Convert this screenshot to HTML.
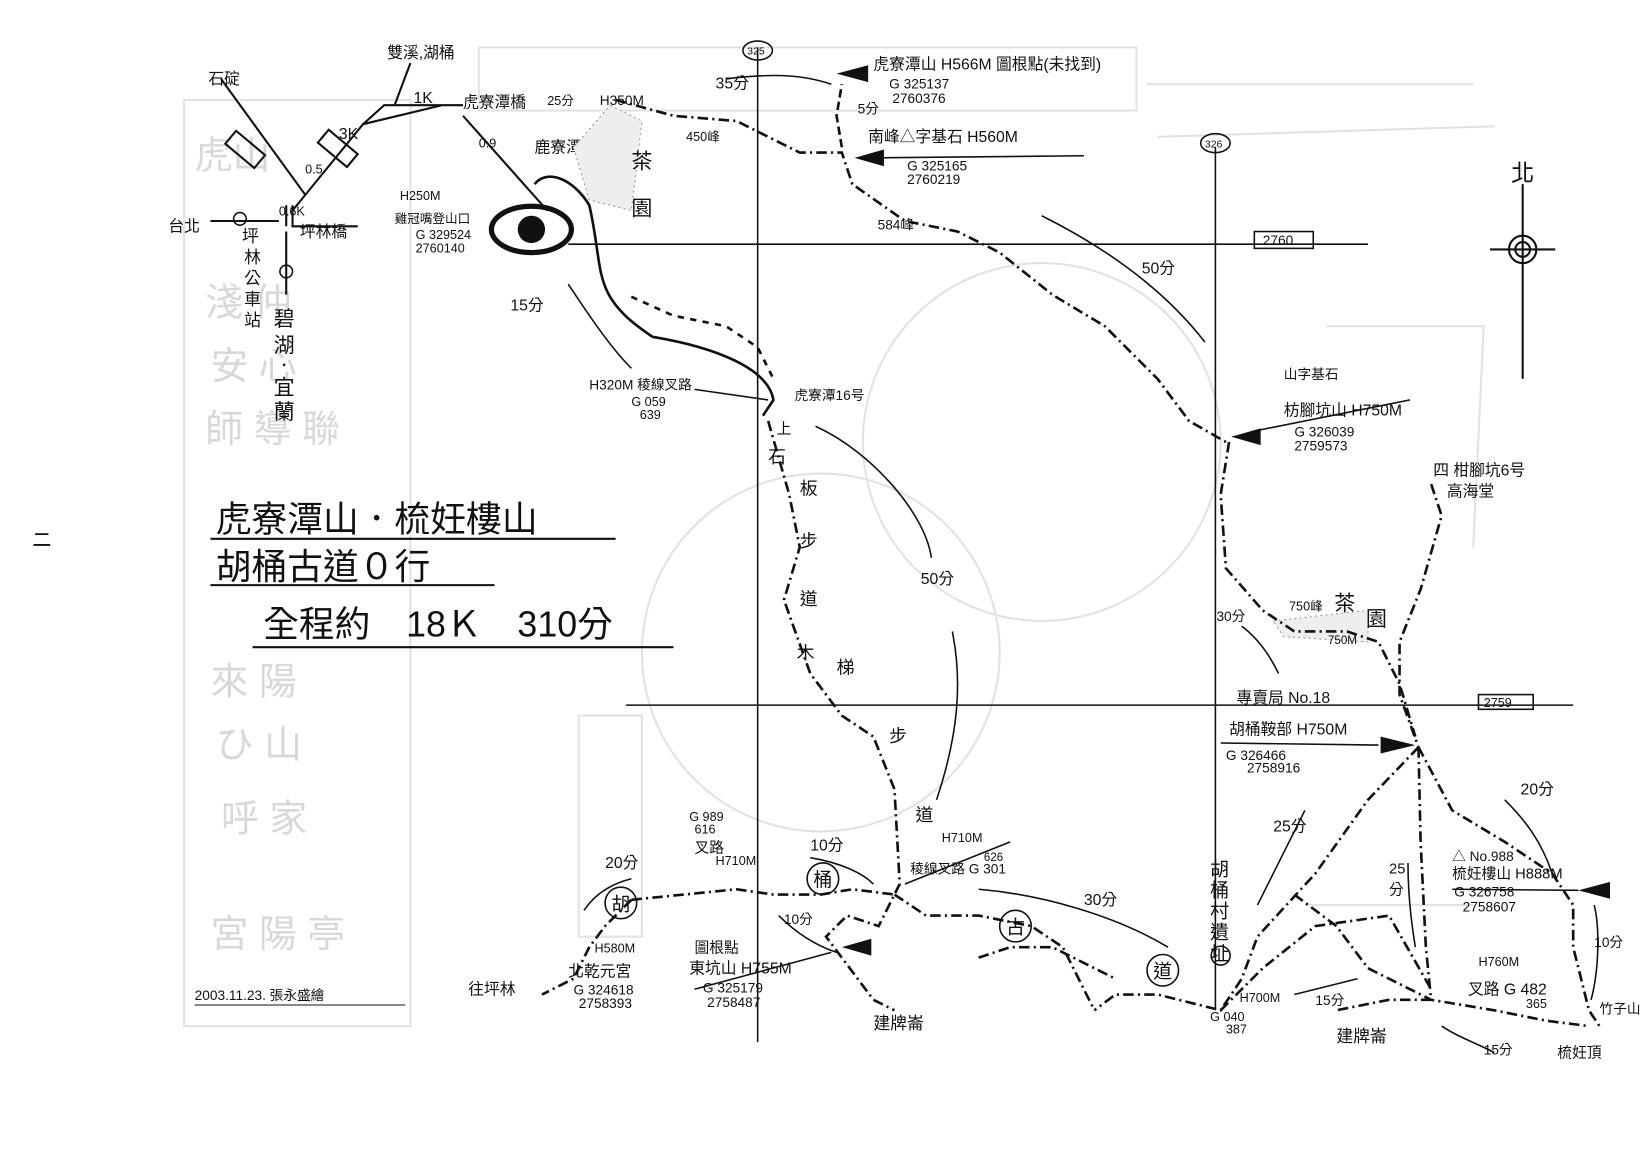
<!DOCTYPE html>
<html><head><meta charset="utf-8">
<style>
html,body{margin:0;padding:0;background:#fff;}
svg{display:block;}
text{font-family:"Liberation Sans","Noto Sans CJK TC",sans-serif;fill:#111;}
.g{fill:#d8d8d8;}
</style></head>
<body>
<svg width="1650" height="1165" viewBox="0 0 1568 1107" preserveAspectRatio="none" xmlns="http://www.w3.org/2000/svg">
<rect width="1568" height="1107" fill="#fff"/>
<!-- faint ghost bleed-through -->
<g fill="none" stroke="#e2e2e2" stroke-width="2">
<rect x="175" y="95" width="215" height="880"/>
<rect x="455" y="45" width="625" height="60"/>
<rect x="550" y="680" width="60" height="210"/>
<circle cx="990" cy="420" r="170"/>
<circle cx="780" cy="620" r="170"/>
<path d="M1090 80 L1400 80 M1100 130 L1420 120 M1260 310 L1410 310 L1400 520 M1240 860 L1400 860"/>
</g>
<g font-size="36" class="g">
<text x="185" y="160" class="g">虎山</text><text x="195" y="300" class="g">淺 仲</text><text x="200" y="360" class="g">安 心</text><text x="195" y="420" class="g">師 導 聯</text>
<text x="200" y="660" class="g">來 陽</text><text x="205" y="720" class="g">ひ 山</text><text x="210" y="790" class="g">呼 家</text><text x="200" y="900" class="g">宮 陽 亭</text>
</g>
<text x="30" y="520" font-size="20">ニ</text>
<!-- grid lines -->
<g stroke="#111" stroke-width="1.5" fill="none">
<line x1="720" y1="45" x2="720" y2="990"/>
<line x1="1155" y1="140" x2="1155" y2="960"/>
<line x1="540" y1="232" x2="1300" y2="232"/>
<line x1="595" y1="670" x2="1495" y2="670"/>
<ellipse cx="720" cy="48" rx="14" ry="9"/>
<ellipse cx="1155" cy="136" rx="14" ry="9"/>
<rect x="1192" y="220" width="56" height="16"/>
<rect x="1405" y="660" width="52" height="14"/>
</g>
<text x="710" y="52" font-size="10">325</text>
<text x="1145" y="140" font-size="10">326</text>
<text x="1200" y="233" font-size="13">2760</text>
<text x="1410" y="672" font-size="12">2759</text>
<!-- compass -->
<g stroke="#111" fill="none" stroke-width="2">
<line x1="1447" y1="175" x2="1447" y2="360"/>
<line x1="1416" y1="237" x2="1478" y2="237"/>
<circle cx="1447" cy="237" r="13"/><circle cx="1447" cy="237" r="7"/>
</g>
<text x="1436" y="172" font-size="22">北</text>
<!-- top-left road diagram -->
<g stroke="#111" stroke-width="2" fill="none">
<path d="M200 210 L265 210 M272 195 L272 215 M278 195 L278 215 L340 215"/>
<path d="M278 200 L345 118 L365 100 L420 100"/>
<path d="M345 118 L420 100"/>
<path d="M290 185 L210 75"/>
<path d="M420 100 L440 100 M440 110 L520 200"/>
<path d="M375 100 L390 60"/>
<path d="M272 220 L272 280"/>
<rect x="225" y="124" width="16" height="36" transform="rotate(-50 233 142)"/>
<rect x="313" y="123" width="16" height="36" transform="rotate(-50 321 141)"/>
</g>
<g font-size="15">
<text x="198" y="80">石碇</text><text x="368" y="55">雙溪,湖桶</text>
<text x="393" y="98">1K</text><text x="440" y="102">虎寮潭橋</text><text x="520" y="100" font-size="12">25分</text>
<text x="322" y="132">3K</text><text x="265" y="205" font-size="12">0.6K</text><text x="290" y="165" font-size="12">0.5</text>
<text x="285" y="225">坪林橋</text><text x="160" y="220">台北</text>
<text x="455" y="140" font-size="12">0.9</text>
<text x="508" y="145">鹿寮潭12号</text>
<text x="570" y="100" font-size="13">H350M</text>
<text x="380" y="190" font-size="12">H250M</text>
<text x="375" y="212" font-size="12">雞冠嘴登山口</text>
<text x="395" y="227" font-size="12">G 329524</text><text x="395" y="240" font-size="12">2760140</text>
</g>
<text x="230" y="230" font-size="16" transform="translate(0,0)">坪</text>
<text x="232" y="250" font-size="16">林</text><text x="232" y="270" font-size="16">公</text><text x="232" y="290" font-size="16">車</text><text x="232" y="310" font-size="16">站</text>
<text x="260" y="310" font-size="20">碧</text><text x="260" y="335" font-size="20">湖</text><text x="262" y="353" font-size="16">．</text><text x="260" y="375" font-size="20">宜</text><text x="260" y="398" font-size="20">蘭</text>
<circle cx="228" cy="208" r="6" fill="none" stroke="#111" stroke-width="1.5"/>
<circle cx="272" cy="258" r="6" fill="none" stroke="#111" stroke-width="1.5"/>
<!-- eye symbol -->
<ellipse cx="505" cy="218" rx="38" ry="22" fill="none" stroke="#111" stroke-width="5"/>
<circle cx="505" cy="218" r="13" fill="#111"/>
<!-- tea field dots -->
<path d="M580 100 L610 115 L600 200 L560 190 L545 140 Z" fill="#eee" stroke="#999" stroke-dasharray="2 3"/>
<path d="M1210 590 L1300 580 L1300 610 L1220 605 Z" fill="#eee" stroke="#999" stroke-dasharray="2 3"/>
<g font-size="20"><text x="600" y="160">茶</text><text x="600" y="205">園</text>
<text x="1268" y="580">茶</text><text x="1298" y="595">園</text></g>
<!-- trails -->
<g stroke="#111" stroke-width="2.5" fill="none">
<path d="M508 175 C520 160 545 170 560 195 C575 260 560 280 620 320 C680 330 730 350 735 380 L725 395" />
<path d="M730 400 L750 470 L760 520 L745 570 L770 640 L800 680 L830 700 L850 750 L855 840 L850 850 L835 880 L805 870 L785 890 L800 910 L830 950 L850 960" stroke-dasharray="10 4 2 4"/>
<path d="M585 95 L640 110 L700 115 L760 145 L800 145 L810 175 L860 210 L910 220 L950 240 L1000 280 L1050 310 L1100 360 L1130 400 L1165 420" stroke-dasharray="10 4 2 4"/>
<path d="M800 140 L795 110 L800 80" stroke-dasharray="8 4"/>
<path d="M1168 420 L1160 470 L1165 540 L1200 580 L1230 600 L1280 600 L1310 610 L1330 650 L1345 700"  stroke-dasharray="10 4 2 4"/>
<path d="M1360 460 L1370 490 L1350 560 L1330 610 L1330 660 L1348 710" stroke-dasharray="10 4 2 4"/>
<path d="M1348 710 L1300 760 L1250 830 L1195 890 L1180 930 L1160 960 L1100 945 L1060 945 L1040 960" stroke-dasharray="10 4 2 4"/>
<path d="M1348 710 L1380 770 L1430 800 L1475 830 L1495 860 L1495 900 L1510 960 L1520 975" stroke-dasharray="10 4 2 4"/>
<path d="M1348 710 L1350 800 L1355 900 L1360 950 L1320 950 L1270 960" stroke-dasharray="10 4 2 4"/>
<path d="M1230 850 L1270 880 L1300 920 L1360 950 L1420 960 L1470 970 L1510 975" stroke-dasharray="10 4 2 4"/>
<path d="M1160 960 L1200 920 L1250 880 L1320 870 L1360 940" stroke-dasharray="10 4 2 4"/>
<path d="M850 850 L880 870 L930 870 L980 880 L1010 900 L1040 960" stroke-dasharray="10 4 2 4"/>
<path d="M930 910 L960 900 L1000 900 L1060 930" stroke-dasharray="10 4 2 4"/>
<path d="M600 855 L650 850 L700 845 L735 850 L780 850 L810 845 L850 850" stroke-dasharray="10 4 2 4"/>
<path d="M600 855 L575 880 L560 900 L545 930 L515 945" stroke-dasharray="10 4 2 4"/>
<path d="M600 282 L640 300 L690 310 L720 330 L735 360" stroke-dasharray="6 6"/>
</g>
<!-- time arrows -->
<g stroke="#111" stroke-width="1.5" fill="none">
<path d="M540 270 C560 300 580 330 600 350"/>
<path d="M690 75 C730 70 760 70 790 80"/>
<path d="M990 205 C1060 240 1110 280 1145 325"/>
<path d="M775 405 C830 430 880 490 885 530"/>
<path d="M905 600 C915 650 910 700 890 760"/>
<path d="M1180 595 C1200 610 1210 630 1215 640"/>
<path d="M1240 770 C1220 810 1210 830 1195 860"/>
<path d="M1338 820 C1338 840 1340 870 1345 900"/>
<path d="M1430 760 C1450 780 1465 800 1475 830"/>
<path d="M1515 860 C1520 880 1520 920 1512 950"/>
<path d="M1420 1000 C1400 990 1385 985 1370 975"/>
<path d="M1290 930 C1270 935 1250 940 1230 945"/>
<path d="M1110 900 C1060 870 990 850 930 845"/>
<path d="M600 835 C580 840 565 850 555 865"/>
<path d="M770 815 C800 820 820 830 830 840"/>
<path d="M740 870 C760 890 780 900 795 905"/>
</g>
<g fill="#111">
<polygon points="795,70 825,62 825,78"/>
<polygon points="812,150 840,142 840,158"/>
<polygon points="1170,415 1198,407 1198,423"/>
<polygon points="1345,708 1312,700 1312,716"/>
<polygon points="1500,846 1530,838 1530,854"/>
<polygon points="800,900 828,892 828,908"/>
</g>
<!-- pointer lines -->
<g stroke="#111" stroke-width="1.5">
<line x1="830" y1="150" x2="1030" y2="148"/>
<line x1="660" y1="370" x2="730" y2="380"/>
<line x1="1190" y1="410" x2="1340" y2="380"/>
<line x1="1160" y1="706" x2="1310" y2="708"/>
<line x1="1380" y1="845" x2="1500" y2="846"/>
<line x1="660" y1="940" x2="790" y2="905"/>
<line x1="860" y1="840" x2="960" y2="800"/>
</g>
<!-- labels -->
<g font-size="15">
<text x="830" y="66">虎寮潭山 H566M 圖根點(未找到)</text>
<text x="845" y="84" font-size="13">G 325137</text><text x="848" y="98" font-size="13">2760376</text>
<text x="815" y="108" font-size="13">5分</text>
<text x="680" y="84">35分</text>
<text x="652" y="134" font-size="12">450峰</text>
<text x="825" y="135">南峰△字基石 H560M</text>
<text x="862" y="162" font-size="13">G 325165</text><text x="862" y="175" font-size="13">2760219</text>
<text x="834" y="218" font-size="13">584峰</text>
<text x="1085" y="260">50分</text>
<text x="485" y="295">15分</text>
<text x="560" y="370" font-size="13">H320M 稜線叉路</text>
<text x="600" y="386" font-size="12">G 059</text><text x="608" y="398" font-size="12">639</text>
<text x="755" y="380" font-size="13">虎寮潭16号</text>
<text x="738" y="412" font-size="14">上</text>
<text x="730" y="440" font-size="17">石</text><text x="760" y="470" font-size="17">板</text><text x="760" y="520" font-size="17">步</text><text x="760" y="575" font-size="17">道</text>
<text x="757" y="626" font-size="17">木</text><text x="795" y="640" font-size="17">梯</text><text x="845" y="705" font-size="17">步</text><text x="870" y="780" font-size="17">道</text>
<text x="875" y="555">50分</text>
<text x="1220" y="360" font-size="13">山字基石</text>
<text x="1220" y="395">枋腳坑山 H750M</text>
<text x="1230" y="415" font-size="13">G 326039</text><text x="1230" y="428" font-size="13">2759573</text>
<text x="1362" y="452" font-size="15">四 柑腳坑6号</text>
<text x="1375" y="472" font-size="15">高海堂</text>
<text x="1225" y="580" font-size="12">750峰</text><text x="1262" y="612" font-size="11">750M</text>
<text x="1156" y="590" font-size="13">30分</text>
<text x="1175" y="668" font-size="15">專賣局 No.18</text>
<text x="1168" y="698">胡桶鞍部 H750M</text>
<text x="1165" y="722" font-size="13">G 326466</text><text x="1185" y="734" font-size="13">2758916</text>
<text x="1445" y="755">20分</text>
<text x="1210" y="790">25分</text>
<text x="1320" y="830" font-size="14">25</text><text x="1320" y="850" font-size="14">分</text>
<text x="1380" y="818" font-size="13">△ No.988</text>
<text x="1380" y="835" font-size="14">梳妊樓山 H888M</text>
<text x="1382" y="852" font-size="13">G 326758</text><text x="1390" y="866" font-size="13">2758607</text>
<text x="1515" y="900" font-size="13">10分</text>
<text x="1405" y="918" font-size="12">H760M</text>
<text x="1395" y="945">叉路 G 482</text><text x="1450" y="958" font-size="12">365</text>
<text x="1520" y="963" font-size="13">竹子山</text>
<text x="1410" y="1002" font-size="13">15分</text>
<text x="1480" y="1005" font-size="14">梳妊頂</text>
<text x="1250" y="955" font-size="13">15分</text>
<text x="1270" y="990" font-size="16">建牌崙</text>
<text x="1178" y="952" font-size="12">H700M</text>
<text x="1150" y="970" font-size="12">G 040</text><text x="1165" y="982" font-size="12">387</text>
<text x="1030" y="860">30分</text>
<text x="655" y="780" font-size="12">G 989</text><text x="660" y="792" font-size="12">616</text>
<text x="660" y="810" font-size="14">叉路</text><text x="680" y="822" font-size="12">H710M</text>
<text x="895" y="800" font-size="12">H710M</text>
<text x="865" y="830" font-size="13">稜線叉路 G 301</text><text x="935" y="818" font-size="11">626</text>
<text x="770" y="808">10分</text>
<text x="745" y="878" font-size="13">10分</text>
<text x="575" y="825">20分</text>
<text x="565" y="905" font-size="12">H580M</text>
<text x="540" y="928" font-size="15">北乾元宮</text>
<text x="545" y="945" font-size="13">G 324618</text><text x="550" y="958" font-size="13">2758393</text>
<text x="445" y="945" font-size="15">往坪林</text>
<text x="660" y="905" font-size="14">圖根點</text>
<text x="655" y="925" font-size="15">東坑山 H755M</text>
<text x="668" y="943" font-size="13">G 325179</text><text x="672" y="957" font-size="13">2758487</text>
<text x="830" y="978" font-size="16">建牌崙</text>
<text x="185" y="950" font-size="13">2003.11.23. 張永盛繪</text>
</g>
<line x1="185" y1="955" x2="385" y2="955" stroke="#111" stroke-width="1"/>
<g font-size="18"><text x="1150" y="832">胡</text><text x="1150" y="852">桶</text><text x="1150" y="872">村</text><text x="1150" y="892">遺</text><text x="1150" y="912">址</text></g>
<!-- circled chars -->
<g fill="none" stroke="#111" stroke-width="1.5">
<circle cx="590" cy="858" r="15"/><circle cx="782" cy="835" r="15"/><circle cx="965" cy="880" r="15"/><circle cx="1105" cy="922" r="15"/>
<circle cx="1160" cy="908" r="9"/>
</g>
<g font-size="18"><text x="581" y="865">胡</text><text x="773" y="842">桶</text><text x="956" y="887">古</text><text x="1096" y="929">道</text></g>
<!-- title -->
<g font-size="34">
<text x="205" y="505">虎寮潭山．梳妊樓山</text>
<text x="205" y="550">胡桶古道０行</text>
<text x="250" y="605">全程約　18Ｋ　310分</text>
</g>
<g stroke="#111" stroke-width="2">
<line x1="200" y1="512" x2="585" y2="512"/>
<line x1="200" y1="556" x2="470" y2="556"/>
<line x1="240" y1="615" x2="640" y2="615"/>
</g>
</svg>
</body></html>
